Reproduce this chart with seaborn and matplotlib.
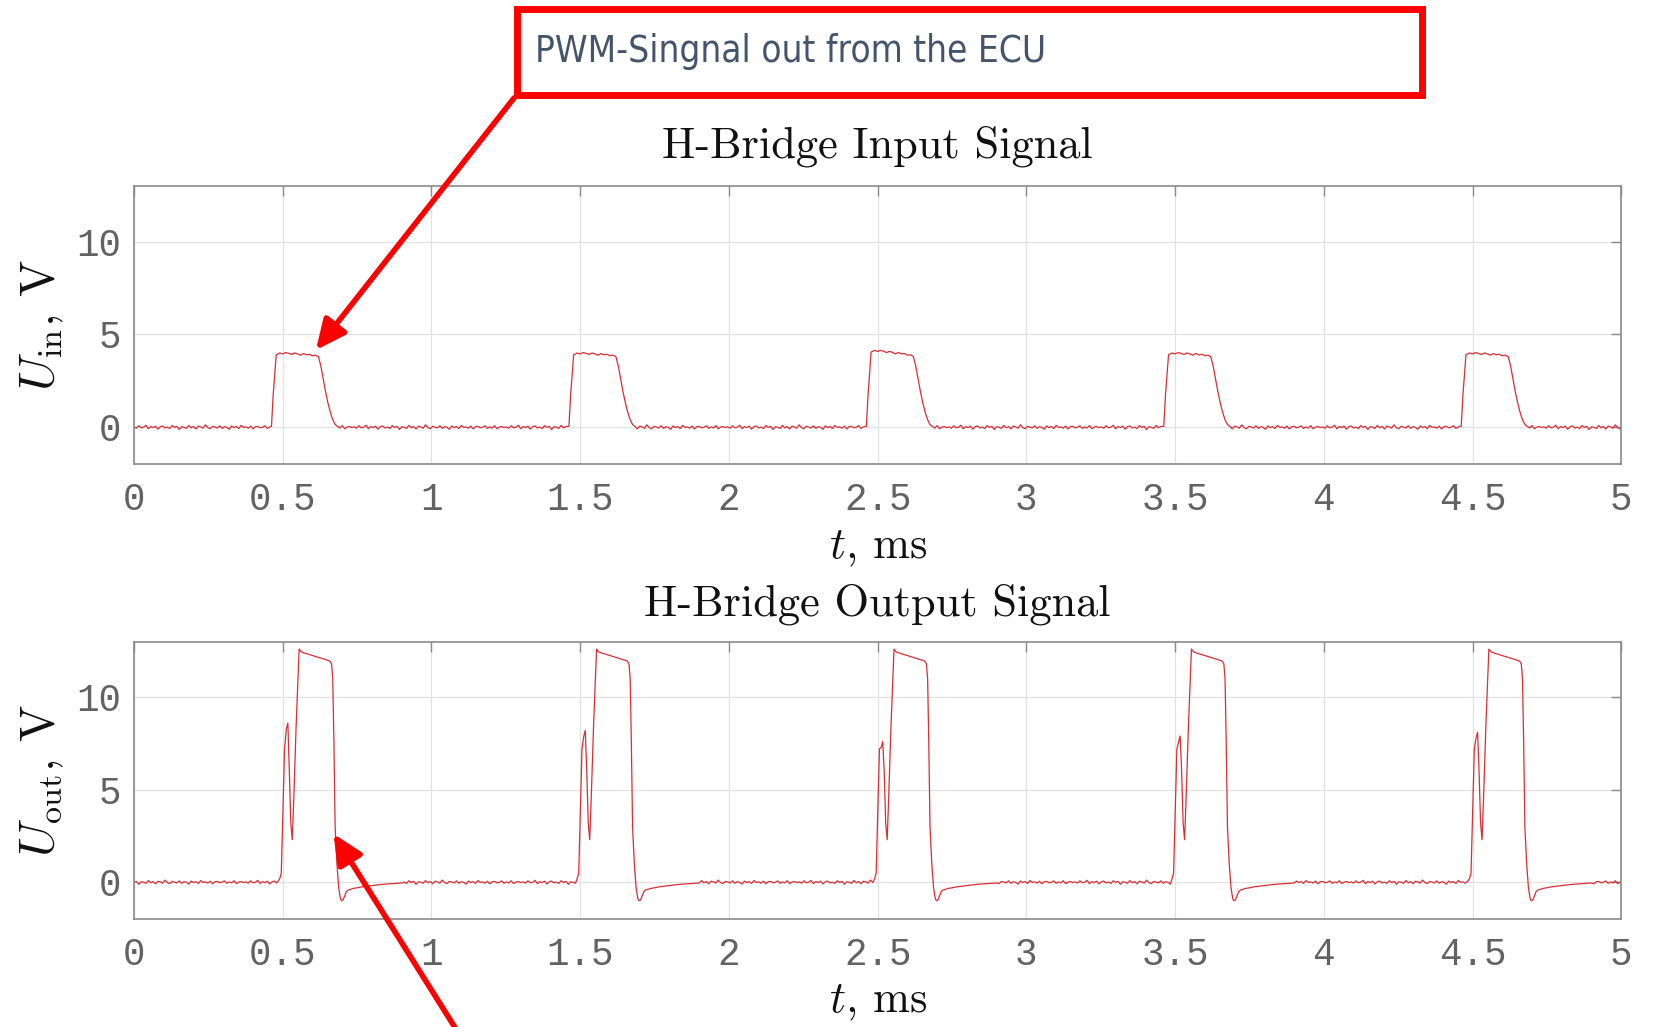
import numpy as np
import pandas as pd
import matplotlib
matplotlib.use("Agg")
import matplotlib.pyplot as plt
import seaborn as sns
from matplotlib import font_manager
from matplotlib.patches import Rectangle, FancyArrowPatch

# ---------------- data ----------------
x_ticks = [0, 0.5, 1, 1.5, 2, 2.5, 3, 3.5, 4, 4.5, 5]
x_tick_labels = ["0", "0.5", "1", "1.5", "2", "2.5", "3", "3.5", "4", "4.5", "5"]
y_ticks = [0, 5, 10]
y_tick_labels = ["0", "5", "10"]
periods = [0, 1, 2, 3, 4]

# input pulse shape (time within period, ms ; volts)
in_pulse_t = [0.462, 0.468, 0.478, 0.490, 0.500, 0.510, 0.520, 0.530, 0.540, 0.550,
              0.560, 0.570, 0.580, 0.590, 0.600, 0.610, 0.620, 0.628, 0.636, 0.644,
              0.652, 0.660, 0.668, 0.676, 0.684]
in_pulse_v = [0.05, 1.8, 3.9, 4.0, 3.95, 4.02, 3.98, 3.92, 4.0, 3.95,
              3.88, 3.97, 3.9, 3.93, 3.85, 3.88, 3.8, 3.3, 2.6, 1.9,
              1.3, 0.8, 0.4, 0.15, 0.05]
in_top_offset = [0.0, 0.0, 0.15, 0.0, 0.0]

# output pulse shape
out_pulse_t = [0.490, 0.495, 0.500, 0.506, 0.512, 0.517, 0.522, 0.527, 0.532, 0.537,
               0.545, 0.555, 0.562, 0.570, 0.580, 0.590, 0.600, 0.610, 0.620, 0.630,
               0.640, 0.650, 0.658, 0.664, 0.668, 0.672, 0.676, 0.682, 0.688, 0.694,
               0.698, 0.703, 0.708, 0.714, 0.720, 0.728, 0.738, 0.750, 0.765, 0.780,
               0.800, 0.820, 0.845, 0.870, 0.900]
out_pulse_v = [0.2, 0.5, 3.5, 7.2, 8.3, 8.6, 6.0, 3.2, 2.3, 4.5,
               8.5, 12.6, 12.45, 12.4, 12.35, 12.3, 12.25, 12.2, 12.15, 12.1,
               12.05, 12.0, 11.95, 11.8, 11.0, 7.5, 3.0, 1.0, -0.3, -0.9,
               -1.0, -0.95, -0.75, -0.5, -0.42, -0.38, -0.33, -0.3, -0.25, -0.22,
               -0.18, -0.14, -0.1, -0.07, -0.04]
out_spike_peak = [8.6, 8.2, 7.6, 7.9, 8.1]

ripple = [0.02, -0.05, 0.08, -0.03, 0.00, 0.11, -0.08, 0.04, -0.02, 0.06,
          -0.10, 0.03, 0.07, -0.04, 0.01, -0.07, 0.09, -0.01, 0.05, -0.12,
          0.03, 0.00, -0.06, 0.10, -0.03, 0.04, -0.09, 0.06, 0.02, -0.05,
          0.13, -0.02, -0.08, 0.05, 0.01, -0.04, 0.08, -0.06, 0.03, 0.00,
          -0.11, 0.07, -0.02, 0.04, -0.07, 0.10, -0.01, 0.02, -0.05, 0.06,
          -0.09, 0.03, 0.05, -0.03, 0.00, 0.08, -0.06, 0.02, -0.04, 0.09,
          -0.08, 0.01, 0.04, -0.02]

# ---------------- assemble traces ----------------
step = 0.008


def assemble(pulse_t, pulse_values_per_period, phase, scale):
    ts, vs = [], []
    idx = phase
    prev_end = -step
    for k in periods:
        seg = np.arange(prev_end + step, k + pulse_t[0] - step / 2, step)
        for tt in seg:
            ts.append(tt)
            vs.append(ripple[idx % len(ripple)] * scale)
            idx += 1
        ts.extend([k + p for p in pulse_t])
        vs.extend(pulse_values_per_period[k])
        prev_end = k + pulse_t[-1]
    seg = np.arange(prev_end + step, 5.0 + 1e-9, step)
    for tt in seg:
        ts.append(tt)
        vs.append(ripple[idx % len(ripple)] * scale)
        idx += 1
    return np.array(ts), np.array(vs)


in_vals = []
for k in periods:
    v = list(in_pulse_v)
    for i in range(2, 17):
        v[i] = v[i] + in_top_offset[k] * (17 - i) / 15
    in_vals.append(v)

out_vals = []
for k in periods:
    v = list(out_pulse_v)
    v[5] = out_spike_peak[k]
    v[4] = out_spike_peak[k] - 0.3
    out_vals.append(v)

t_in, u_in = assemble(in_pulse_t, in_vals, 0, 1.0)
t_out, u_out = assemble(out_pulse_t, out_vals, 17, 0.9)

df_in = pd.DataFrame({"t": t_in, "u": u_in})
df_out = pd.DataFrame({"t": t_out, "u": u_out})

# ---------------- style ----------------
sns.set_theme(style="white")
plt.rcParams["mathtext.fontset"] = "cm"
plt.rcParams["font.family"] = ["DejaVu Sans"]

line_color = "#d62f35"
grid_color = "#e2e2e2"
spine_color = "#8a8a8a"
tick_label_color = "#626262"

fig = plt.figure(figsize=(16.55, 10.27), dpi=100)
fig.patch.set_facecolor("white")

ax1 = fig.add_axes([0.081, 0.5478, 0.8986, 0.2713])
ax2 = fig.add_axes([0.081, 0.1049, 0.8986, 0.2703])

sns.lineplot(data=df_in, x="t", y="u", ax=ax1, color=line_color, lw=0.9,
             estimator=None, sort=False)
sns.lineplot(data=df_out, x="t", y="u", ax=ax2, color=line_color, lw=0.9,
             estimator=None, sort=False)

titles = ["H-Bridge Input Signal", "H-Bridge Output Signal"]
ylabels = [r"$U_{\mathrm{in}}$, V", r"$U_{\mathrm{out}}$, V"]
title_y = [1.1436, 1.136]
xlabel_y = [-0.304, -0.3015]

for ax, title, yl, ty, xy in zip([ax1, ax2], titles, ylabels, title_y, xlabel_y):
    ax.set_xlim(0, 5)
    ax.set_ylim(-2, 13)
    ax.set_xticks(x_ticks)
    ax.set_xticklabels(x_tick_labels, family="Liberation Mono", fontsize=27,
                       color=tick_label_color)
    ax.set_yticks(y_ticks)
    ax.set_yticklabels(y_tick_labels, family="Liberation Mono", fontsize=27,
                       color=tick_label_color)
    ax.tick_params(direction="in", top=True, right=True, length=7, width=1,
                   color=spine_color)
    ax.tick_params(axis="x", pad=13)
    ax.tick_params(axis="y", pad=9)
    ax.grid(True, color=grid_color, lw=0.9)
    ax.set_axisbelow(True)
    for s in ax.spines.values():
        s.set_color(spine_color)
        s.set_linewidth(1.2)
    ax.set_title(title, family="cmr10", fontsize=32, color="#111111", y=ty,
                 va="center", pad=0)
    ax.set_xlabel(r"$t$, ms", family="cmr10", fontsize=32, color="#111111", va="center")
    ax.xaxis.set_label_coords(0.5, xy)
    ax.set_ylabel(yl, family="cmr10", fontsize=35, color="#111111", va="center")
    ax.yaxis.set_label_coords(-0.0619, 0.5)

# ---------------- annotation box and arrows ----------------
def pick_condensed():
    for f in font_manager.fontManager.ttflist:
        name = f.name
        st = str(f.stretch).lower()
        if ("Condensed" in name or "Narrow" in name or "condensed" in st
                or "narrow" in st):
            return name, f.stretch
    return None, None


cond_name, cond_stretch = pick_condensed()
if cond_name is not None:
    note_kw = dict(family=cond_name, stretch=cond_stretch, fontsize=26.5)
else:
    note_kw = dict(family="Roboto", fontsize=27)

box = Rectangle((0.3124, 0.9075), 0.8592 - 0.3124, 0.9917 - 0.9075,
                transform=fig.transFigure, fill=False, edgecolor="#ff0000",
                lw=5, zorder=5)
fig.add_artist(box)
fig.text(0.3233, 0.950, "PWM-Singnal out from the ECU", color="#44546a",
         va="center", ha="left", **note_kw)

arrow_style = "-|>,head_length=0.6,head_width=0.28"
arr1 = FancyArrowPatch((0.3106, 0.9046), (0.1909, 0.6592),
                       transform=fig.transFigure, arrowstyle=arrow_style,
                       mutation_scale=30, lw=4, color="#ff0000",
                       shrinkA=0, shrinkB=0, zorder=6)
arr2 = FancyArrowPatch((0.2786, -0.01), (0.2015, 0.188),
                       transform=fig.transFigure, arrowstyle=arrow_style,
                       mutation_scale=30, lw=4, color="#ff0000",
                       shrinkA=0, shrinkB=0, zorder=6)
fig.add_artist(arr1)
fig.add_artist(arr2)

fig.savefig("out.png", dpi=100, facecolor="white")
